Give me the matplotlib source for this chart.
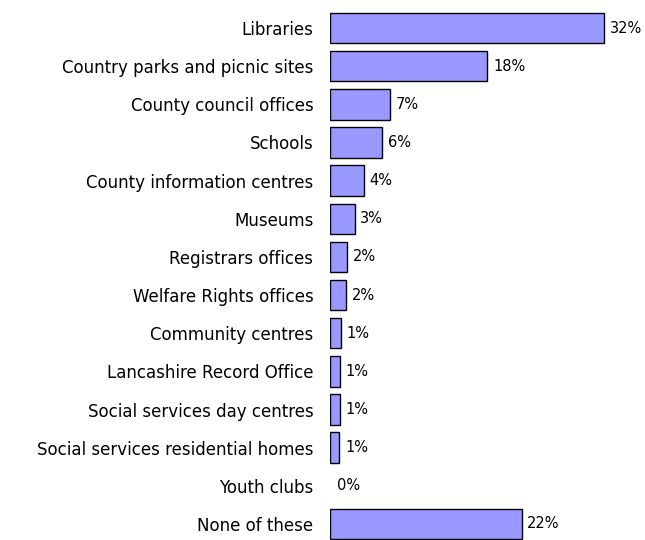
import matplotlib
matplotlib.use('Agg')
import matplotlib.pyplot as plt

categories = ["Libraries", "Country parks and picnic sites", "County council offices",
              "Schools", "County information centres", "Museums", "Registrars offices",
              "Welfare Rights offices", "Community centres", "Lancashire Record Office",
              "Social services day centres", "Social services residential homes",
              "Youth clubs", "None of these"]
values = [32.0, 18.4, 7.0, 6.1, 4.0, 2.9, 2.0, 1.9, 1.3, 1.2, 1.2, 1.1, 0.0, 22.4]
labels = ["32%", "18%", "7%", "6%", "4%", "3%", "2%", "2%", "1%", "1%", "1%", "1%", "0%", "22%"]

plt.rcParams['font.family'] = ['DejaVu Sans']

fig = plt.figure(figsize=(6.45, 5.4), dpi=100)
ax = fig.add_axes([330 / 645, 0, 291 / 645, 1])

ypos = list(range(len(categories)))
# zero-length bars get no outline
lw = [1.0 if v > 0 else 0 for v in values]
ax.barh(ypos, values, height=0.8, color='#9999ff', edgecolor='black', linewidth=lw)

for y, v, lab in zip(ypos, values, labels):
    ax.annotate(lab, (v, y), xytext=(4 if v > 0 else 5, 0), textcoords='offset points',
                va='center', ha='left', fontsize=10.5)

ax.set_xlim(0, 34)
ax.set_ylim(13.42, -0.734)
ax.set_yticks(ypos)
ax.set_yticklabels(categories, fontsize=12)
ax.tick_params(axis='y', length=0, pad=12)
ax.set_xticks([])
for s in ax.spines.values():
    s.set_visible(False)

fig.savefig('out.png', dpi=100)
